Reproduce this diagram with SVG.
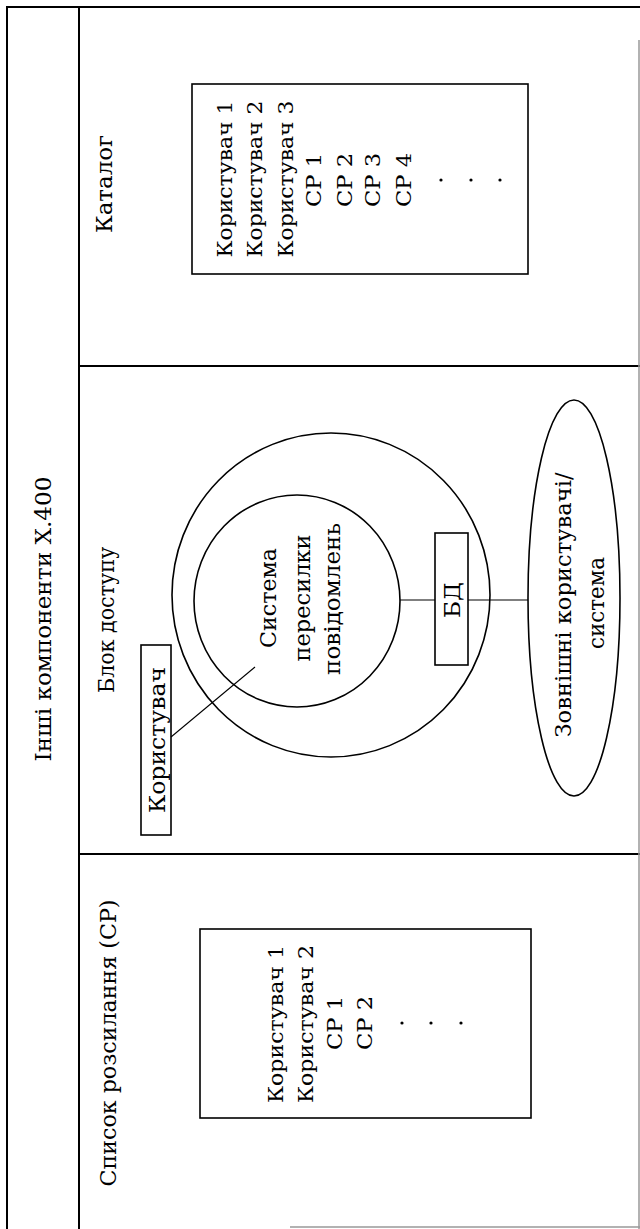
<svg xmlns="http://www.w3.org/2000/svg" width="640" height="1229" viewBox="0 0 640 1229">
<style>
.frame{stroke:#000;stroke-width:2;fill:none}
.faint{stroke:#999;stroke-width:1.5;fill:none}
.shape{stroke:#000;stroke-width:1.6;fill:none}
.conn{stroke:#000;stroke-width:1.1;fill:none}
text{font-family:"DejaVu Serif","Liberation Serif",serif;fill:#000;text-anchor:middle;dominant-baseline:central}
.t22{font-size:22px}
.t20{font-size:20px}
.t23{font-size:23px}
</style>
<rect width="640" height="1229" fill="#fff"/>
<g id="frame">
<path class="frame" d="M7,1229 V7 H640"/>
<path class="frame" d="M79,7 V1229"/>
<path class="frame" d="M79,366 H640"/>
<path class="frame" d="M79,854 H640"/>
<path class="faint" d="M639,40 V1229"/>
<path class="faint" d="M290,1227 H640"/>
<text class="t22" transform="translate(43,619) rotate(-90)" textLength="285" lengthAdjust="spacingAndGlyphs">Інші компоненти Х.400</text>
</g>
<g id="catalog">
<text class="t22" transform="translate(104,184) rotate(-90)" textLength="98" lengthAdjust="spacingAndGlyphs">Каталог</text>
<rect class="shape" x="192" y="84" width="336" height="190"/>
<text class="t20" transform="translate(224.5,179) rotate(-90)" textLength="157" lengthAdjust="spacingAndGlyphs">Користувач 1</text>
<text class="t20" transform="translate(255,179) rotate(-90)" textLength="157" lengthAdjust="spacingAndGlyphs">Користувач 2</text>
<text class="t20" transform="translate(286,179) rotate(-90)" textLength="157" lengthAdjust="spacingAndGlyphs">Користувач 3</text>
<text class="t20" transform="translate(314,180) rotate(-90)" textLength="54" lengthAdjust="spacingAndGlyphs">СР 1</text>
<text class="t20" transform="translate(345,180) rotate(-90)" textLength="54" lengthAdjust="spacingAndGlyphs">СР 2</text>
<text class="t20" transform="translate(373,180) rotate(-90)" textLength="54" lengthAdjust="spacingAndGlyphs">СР 3</text>
<text class="t20" transform="translate(404,180) rotate(-90)" textLength="54" lengthAdjust="spacingAndGlyphs">СР 4</text>
<circle cx="441" cy="180" r="1.6"/>
<circle cx="471" cy="180" r="1.6"/>
<circle cx="500" cy="180" r="1.6"/>
</g>
<g id="access-unit">
<text class="t22" transform="translate(106,620) rotate(-90)" textLength="146" lengthAdjust="spacingAndGlyphs">Блок доступу</text>
<ellipse class="shape" cx="331" cy="595" rx="159" ry="162"/>
</g>
<g id="mts">
<ellipse class="shape" cx="297" cy="601" rx="103" ry="106"/>
<text class="t23" transform="translate(268,598) rotate(-90)" textLength="100" lengthAdjust="spacingAndGlyphs">Система</text>
<text class="t23" transform="translate(302,598) rotate(-90)" textLength="127" lengthAdjust="spacingAndGlyphs">пересилки</text>
<text class="t23" transform="translate(332,599) rotate(-90)" textLength="152" lengthAdjust="spacingAndGlyphs">повідомлень</text>
</g>
<g id="user">
<rect class="shape" x="141" y="645" width="30" height="190"/>
<text class="t22" transform="translate(157,740) rotate(-90)" textLength="146" lengthAdjust="spacingAndGlyphs">Користувач</text>
</g>
<g id="bd">
<rect class="shape" x="435" y="533" width="33" height="132"/>
<text class="t22" transform="translate(452,600) rotate(-90)" textLength="36" lengthAdjust="spacingAndGlyphs">БД</text>
</g>
<g id="external">
<ellipse class="shape" cx="574" cy="598" rx="46" ry="198"/>
<text class="t22" transform="translate(563,605) rotate(-90)" textLength="265" lengthAdjust="spacingAndGlyphs">Зовнішні користувачі/</text>
<text class="t22" transform="translate(596,603) rotate(-90)" textLength="92" lengthAdjust="spacingAndGlyphs">система</text>
</g>
<g id="distribution-list">
<text class="t22" transform="translate(108,1043) rotate(-90)" textLength="287" lengthAdjust="spacingAndGlyphs">Список розсилання (СР)</text>
<rect class="shape" x="200" y="929" width="331" height="189"/>
<text class="t20" transform="translate(275.5,1024) rotate(-90)" textLength="158" lengthAdjust="spacingAndGlyphs">Користувач 1</text>
<text class="t20" transform="translate(306,1024) rotate(-90)" textLength="158" lengthAdjust="spacingAndGlyphs">Користувач 2</text>
<text class="t20" transform="translate(335,1023) rotate(-90)" textLength="54" lengthAdjust="spacingAndGlyphs">СР 1</text>
<text class="t20" transform="translate(365,1023) rotate(-90)" textLength="54" lengthAdjust="spacingAndGlyphs">СР 2</text>
<circle cx="402" cy="1023" r="1.6"/>
<circle cx="431" cy="1023" r="1.6"/>
<circle cx="461" cy="1023" r="1.6"/>
</g>
<g id="connectors">
<line class="conn" x1="171" y1="737" x2="255" y2="667"/>
<line class="conn" x1="400" y1="600" x2="435" y2="600"/>
<line class="conn" x1="468" y1="600" x2="528" y2="600"/>
</g>
</svg>
